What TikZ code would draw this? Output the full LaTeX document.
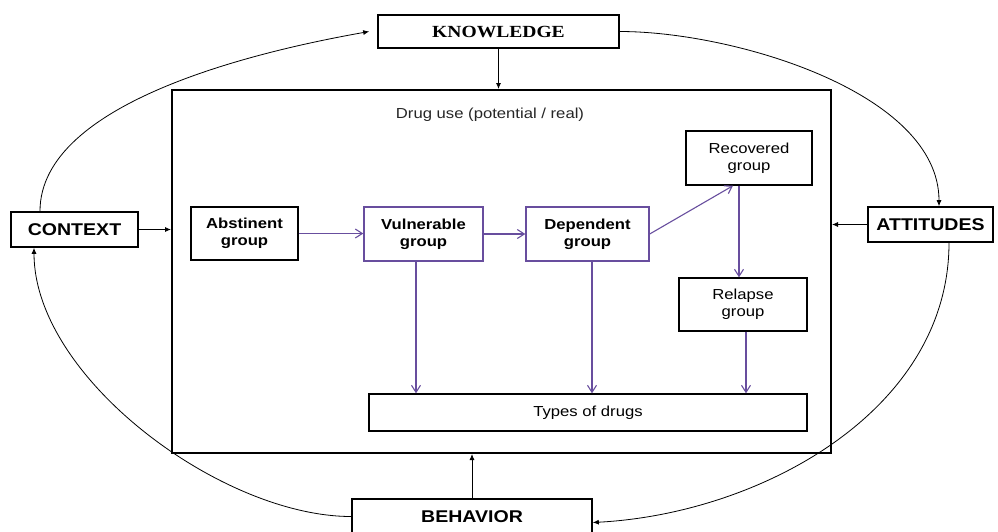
\documentclass[tikz,border=0pt]{standalone}
\usepackage{fontspec}
\setmainfont{Liberation Sans}[FakeStretch=1.15]
\newfontfamily\knowfont{Liberation Serif}[FakeStretch=1.15]
\usetikzlibrary{arrows.meta,positioning}
\definecolor{grpline}{RGB}{104,78,158}

\begin{document}
\begin{tikzpicture}[x=1pt,y=1pt,
	outerbox/.style={draw,line width=1.6pt,inner sep=0pt,minimum height=34},
	grpbox/.style={draw,line width=1.4pt,inner sep=0pt,align=center,font=\fontsize{14.5}{17}\selectfont},
	flow/.style={-{Straight Barb[length=7pt,width=9pt]},grpline,line width=1.1pt},
	link/.style={-{Latex[length=6pt,width=5pt]},line width=0.8pt}]
\useasboundingbox (0,0) rectangle (998,-531);

\node[draw,line width=2pt,minimum width=659,minimum height=363] (use) at (501.5,-271.5) {};
\node[font=\fontsize{14.5}{17}\selectfont,text=black!85] (uselbl) at (490,-115) {Drug use (potential / real)};

\node[outerbox,minimum width=241,minimum height=33,font=\fontsize{17}{19}\selectfont\knowfont\bfseries] (know) at (498.5,-31.5) {KNOWLEDGE};
\node[outerbox,minimum width=127,minimum height=35,font=\fontsize{17}{19}\selectfont\bfseries] (ctx) at (74.5,-229.5) {CONTEXT};
\node[outerbox,minimum width=125,minimum height=35,font=\fontsize{17}{19}\selectfont\bfseries] (att) at (930.5,-224.5) {ATTITUDES};
\node[outerbox,minimum width=240,minimum height=35,font=\fontsize{17}{19}\selectfont\bfseries] (beh) at (472,-516.5) {BEHAVIOR};

\node[grpbox,minimum width=107,minimum height=53,font=\fontsize{14.5}{17}\selectfont\bfseries] (abst) at (244.5,-233.5) {Abstinent\\group};
\node[grpbox,draw=grpline,minimum width=119,minimum height=54,font=\fontsize{14.5}{17}\selectfont\bfseries] (vul) at (423.5,-234) {Vulnerable\\group};
\node[grpbox,draw=grpline,minimum width=123,minimum height=54,font=\fontsize{14.5}{17}\selectfont\bfseries] (dep) at (587.5,-234) {Dependent\\group};
\node[grpbox,minimum width=126,minimum height=54] (rec) at (749,-158) {Recovered\\group};
\node[grpbox,minimum width=128,minimum height=53] (rel) at (743,-304.5) {Relapse\\group};
\node[grpbox,minimum width=438,minimum height=37] (types) at (588,-412.5) {Types of drugs};

\draw[link] (know.south) -- (know.south |- use.north);
\draw[link] (ctx.east) -- (ctx.east -| use.west);
\draw[link] (att.west) -- (att.west -| use.east);
\draw[link] (beh.north) -- (beh.north |- use.south);

\draw[link] ([xshift=-34.5pt]ctx.north) to[out=90,in=190,looseness=0.75] ([xshift=-8pt]know.west);
\draw[link] (know.east) to[out=0,in=90,looseness=0.8] ([xshift=8.5pt]att.north);
\draw[link] ([xshift=18.5pt]att.south) to[out=-90,in=3,looseness=0.95] ([yshift=-6pt]beh.east);
\draw[link] (beh.west) to[out=180,in=-90,looseness=0.8] ([xshift=-40.5pt]ctx.south);

\draw[flow] (abst.east) -- (abst.east -| vul.west);
\draw[flow] (vul.east) -- (dep.west);
\draw[flow] (dep.east) -- ([xshift=-16pt]rec.south);
\draw[flow] ([xshift=-10pt]rec.south) -- ([xshift=-10pt]rec.south |- rel.north);
\draw[flow] ([xshift=-7.5pt]vul.south) -- ([xshift=-7.5pt]vul.south |- types.north);
\draw[flow] ([xshift=4.5pt]dep.south) -- ([xshift=4.5pt]dep.south |- types.north);
\draw[flow] ([xshift=3pt]rel.south) -- ([xshift=3pt]rel.south |- types.north);
\end{tikzpicture}
\end{document}
